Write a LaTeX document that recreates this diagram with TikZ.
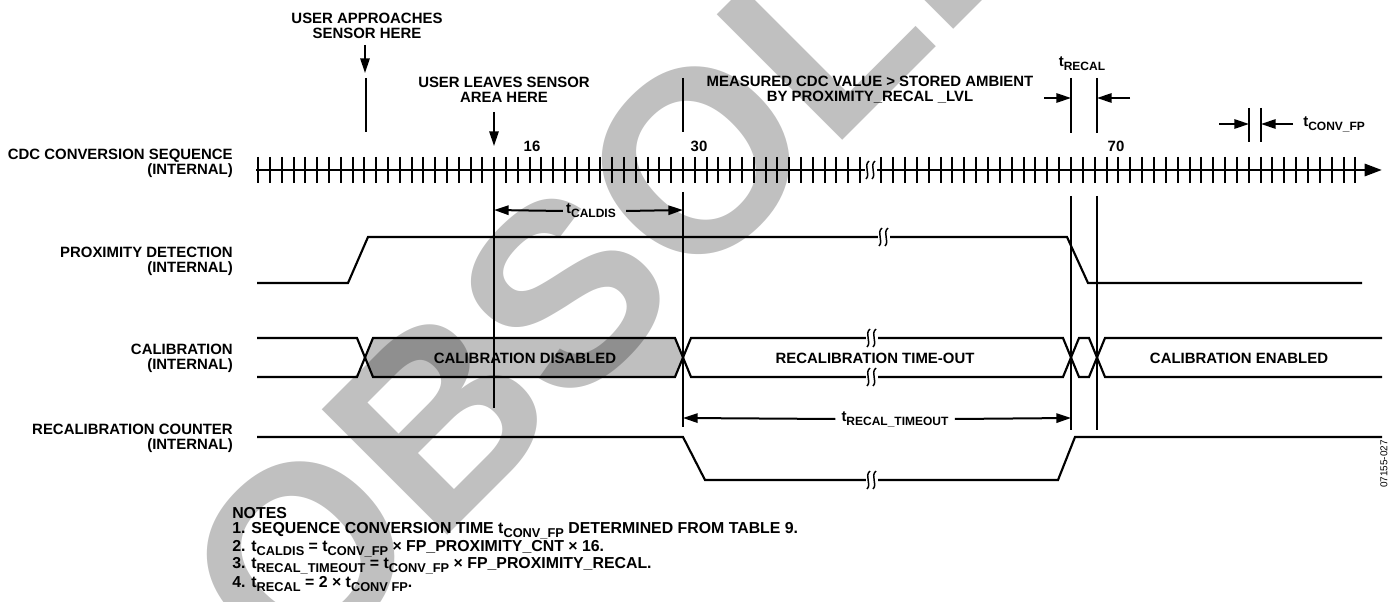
\documentclass[tikz,border=0pt]{standalone}
\usepackage{fontspec}
\setmainfont{Liberation Sans}
\usetikzlibrary{arrows.meta}
\definecolor{wmgray}{RGB}{192,192,192}
\newcommand{\tsb}[1]{t\raisebox{-3pt}{\fontsize{9}{9}\selectfont #1}}
\newcommand{\tsn}[1]{t\raisebox{-3.2pt}{\fontsize{9.6}{9.6}\selectfont #1}}
\begin{document}
\begin{tikzpicture}[x=0.75pt,y=-0.75pt,
  lbl/.style={font=\fontsize{11.2}{11.25}\selectfont\bfseries, inner sep=0pt, align=center},
  lblr/.style={lbl, align=right, anchor=east},
  notel/.style={font=\fontsize{11.9}{12}\selectfont\bfseries, inner sep=0pt, anchor=west, align=left},
  sig/.style={line width=1.6pt, line join=miter},
  thinl/.style={line width=0.8pt},
  tickl/.style={line width=2pt},
  arr/.style={-{Triangle[length=11pt,width=7pt]}, line width=1.5pt},
  brk/.pic={
    \fill[white] (-6,-9) rectangle (6,9);
    \draw[line width=1.1pt] (-5,9) .. controls (0,4) and (-8,-4) .. (-2,-9);
    \draw[line width=1.1pt] (1,9) .. controls (6,4) and (-2,-4) .. (4,-9);
  }
]
\useasboundingbox (0,0) rectangle (1400,602);
% watermark
\node[font=\fontsize{193.5}{193.5}\selectfont\bfseries, text=wmgray, rotate=45, anchor=base west, inner sep=0pt] (wm) at (293,690) {OBSOLETE};

% left labels
\node[lblr] (l1) at (233,163) {CDC CONVERSION SEQUENCE\\(INTERNAL)};
\node[lblr] (l2) at (233,261) {PROXIMITY DETECTION\\(INTERNAL)};
\node[lblr] (l3) at (233,358) {CALIBRATION\\(INTERNAL)};
\node[lblr] (l4) at (233,438) {RECALIBRATION COUNTER\\(INTERNAL)};

% top labels
\node[lbl] (ua) at (367,26) {USER APPROACHES\\SENSOR HERE};
\node[lbl] (ul) at (504,90) {USER LEAVES SENSOR\\AREA HERE};
\node[lbl] (mc) at (870,90) {MEASURED CDC VALUE > STORED AMBIENT\\BY PROXIMITY\_RECAL \_LVL};
\node[lbl] (n16) at (532,146) {16};
\node[lbl] (n30) at (699,146) {30};
\node[lbl] (n70) at (1116,146) {70};

% axis
\foreach \i in {-36,...,15} {\pgfmathsetmacro{\xx}{round(683+\i*11.8)}\draw[tickl] (\xx,157) -- ++(0,26);}
\foreach \j in {-16,...,24} {\pgfmathsetmacro{\xx}{round(1071+\j*11.85)}\draw[tickl] (\xx,157) -- ++(0,26);}
\draw[line width=2.2pt] (256,170) -- (866,170);
\draw[line width=2.2pt,-{Triangle[length=13pt,width=9pt]}] (876,170) -- (1382,170);
\pic at (871,170) {brk};

% down arrows and markers
\coordinate (a1s) at (365,45); \coordinate (a1e) at (365,73);
\draw[arr] (a1s) -- (a1e);
\draw[thinl] (366,78) -- (366,132);
\coordinate (a2s) at (494,112); \coordinate (a2e) at (494,146);
\draw[arr] (a2s) -- (a2e);
\draw[thinl] (494,157) -- (494,408);
\draw[thinl] (683,78) -- (683,132);
\draw[thinl] (683,192) -- (683,427);
\draw[thinl] (1071,78) -- (1071,133);
\draw[thinl] (1097,78) -- (1097,133);
\draw[thinl] (1071,196) -- (1071,430);
\draw[thinl] (1097,196) -- (1097,430);
\draw[thinl] (1249,108) -- (1249,142);
\draw[thinl] (1261,108) -- (1261,142);

% tRECAL
\node[lbl] (trc) at (1082,64) {\tsb{RECAL}};
\draw[arr] (1044,98) -- (1071,98);
\draw[arr] (1130,98) -- (1097,98);
% tCONV_FP
\draw[arr] (1219,124) -- (1249,124);
\draw[arr] (1293,124) -- (1261,124);
\node[lbl, anchor=west] (tcv) at (1303,124) {\tsb{CONV\_FP}};
% tCALDIS
\node[lbl] (tcd) at (591,211) {\tsb{CALDIS}};
\draw[arr] (tcd.west) ++(-3,0) -- (494,210);
\draw[arr] (tcd.east) ++(10,0) -- (683,210);
% tRECAL_TIMEOUT
\node[lbl] (trt) at (895,419) {\tsb{RECAL\_TIMEOUT}};
\draw[arr] (trt.west) ++(-6,0) -- (683,418);
\draw[arr] (trt.east) ++(6,0) -- (1071,418);

% proximity
\draw[sig] (257,283) -- (348,283) -- (368,237) -- (1067,237) -- (1088,283) -- (1362,283);
\pic at (884,237) {brk};

% calibration
\draw[sig] (257,338) -- (357,338) -- (365,357.5) -- (357,377) -- (257,377);
\draw[sig, fill=black, fill opacity=0.25] (365,357.5) -- (373,338) -- (675,338) -- (683,357.5) -- (675,377) -- (373,377) -- cycle;
\draw[sig] (683,357.5) -- (691,338) -- (1063,338) -- (1071,357.5) -- (1063,377) -- (691,377) -- cycle;
\draw[sig] (1071,357.5) -- (1079,338) -- (1089,338) -- (1097,357.5) -- (1089,377) -- (1079,377) -- cycle;
\draw[sig] (1382,338) -- (1105,338) -- (1097,357.5) -- (1105,377) -- (1382,377);
\pic at (872,338) {brk};
\pic at (872,377) {brk};
\node[lbl] (cd) at (525,358) {CALIBRATION DISABLED};
\node[lbl] (rt) at (875,358) {RECALIBRATION TIME-OUT};
\node[lbl] (ce) at (1239,358) {CALIBRATION ENABLED};

% counter
\draw[sig] (257,437) -- (683,437) -- (705,480) -- (1058,480) -- (1075,437) -- (1382,437);
\pic at (872,480) {brk};

% notes
\node[notel] (nt0) at (232,513) {NOTES};
\node[notel] (nt1) at (232,531) {1. SEQUENCE CONVERSION TIME \tsn{CONV\_FP} DETERMINED FROM TABLE 9.};
\node[notel] (nt2) at (232,549) {2. \tsn{CALDIS} = \tsn{CONV\_FP} × FP\_PROXIMITY\_CNT × 16.};
\node[notel] (nt3) at (232,566) {3. \tsn{RECAL\_TIMEOUT} = \tsn{CONV\_FP} × FP\_PROXIMITY\_RECAL.};
\node[notel] (nt4) at (232,584) {4. \tsn{RECAL} = 2 × \tsn{CONV FP}.};

\node[rotate=90, font=\fontsize{7.5}{7.5}\selectfont, inner sep=0pt] (fid) at (1384,464) {07155-027};
\end{tikzpicture}
\end{document}
